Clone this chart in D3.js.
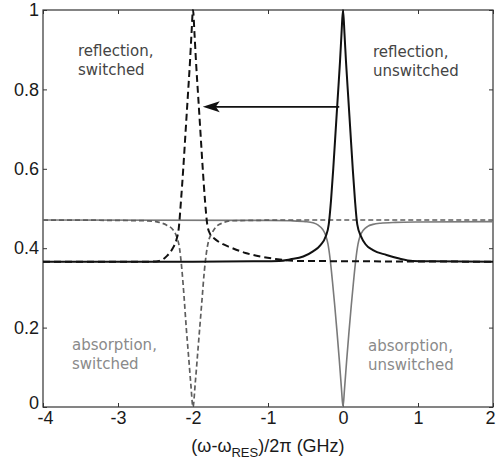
<!DOCTYPE html>
<html>
<head>
<meta charset="utf-8">
<script src="https://cdn.jsdelivr.net/npm/d3@7"></script>
<style>
  html, body { margin: 0; padding: 0; background: #fff; }
  svg { display: block; }
</style>
</head>
<body>
<svg id="chart" width="496" height="463"></svg>
<script>
// Detuning axis (GHz) and tick labels
const xTicks = [-4, -3, -2, -1, 0, 1, 2];
const xTickLabels = ["-4", "-3", "-2", "-1", "0", "1", "2"];
const yTicks = [0, 0.2, 0.4, 0.6, 0.8, 1];
const yTickLabels = ["0", "0.2", "0.4", "0.6", "0.8", "1"];

// Reflection, unswitched (resonance at 0)
const reflUnswX = [-4, -2, -1.2, -0.85, -0.7, -0.53, -0.4, -0.3, -0.23, -0.19, -0.16, -0.13, -0.1, -0.07, -0.04, -0.02, 0,
                   0.02, 0.04, 0.07, 0.1, 0.13, 0.16, 0.19, 0.24, 0.3, 0.4, 0.58, 0.75, 0.93, 1.2, 2];
const reflUnswY = [0.366, 0.366, 0.367, 0.368, 0.372, 0.379, 0.392, 0.408, 0.43, 0.46, 0.52, 0.60, 0.69, 0.78, 0.87, 0.94, 1.0,
                   0.94, 0.87, 0.78, 0.69, 0.60, 0.52, 0.46, 0.43, 0.41, 0.395, 0.383, 0.374, 0.368, 0.367, 0.366];

// Absorption, unswitched (resonance at 0)
const absUnswX = [-4, -1, -0.7, -0.5, -0.4, -0.33, -0.27, -0.23, -0.2, -0.17, -0.14, -0.11, -0.08, -0.05, -0.02, 0,
                  0.02, 0.05, 0.08, 0.11, 0.14, 0.17, 0.2, 0.23, 0.27, 0.33, 0.4, 0.5, 0.7, 1, 2];
const absUnswY = [0.471, 0.47, 0.469, 0.467, 0.464, 0.458, 0.447, 0.432, 0.41, 0.37, 0.315, 0.255, 0.19, 0.12, 0.045, 0,
                  0.045, 0.12, 0.19, 0.255, 0.315, 0.37, 0.41, 0.432, 0.445, 0.455, 0.46, 0.463, 0.465, 0.466, 0.467];

// Reflection, switched (resonance pulled to -2 GHz)
const reflSwX = [-4, -2.6, -2.45, -2.35, -2.27, -2.22, -2.19, -2.16, -2.13, -2.1, -2.07, -2.04, -2.02, -2,
                 -1.98, -1.96, -1.93, -1.9, -1.87, -1.84, -1.81, -1.77, -1.72, -1.6, -1.5, -1.3, -1.1, -0.9, -0.6, 2];
const reflSwY = [0.366, 0.366, 0.368, 0.38, 0.40, 0.422, 0.45, 0.52, 0.60, 0.69, 0.78, 0.87, 0.94, 1.0,
                 0.94, 0.87, 0.78, 0.69, 0.60, 0.52, 0.46, 0.435, 0.425, 0.41, 0.402, 0.388, 0.379, 0.373, 0.368, 0.366];

// Absorption, switched (resonance pulled to -2 GHz)
const absSwX = [-4, -3, -2.6, -2.45, -2.35, -2.27, -2.22, -2.18, -2.15, -2.12, -2.09, -2.06, -2.03, -2,
                -1.97, -1.94, -1.91, -1.88, -1.85, -1.82, -1.79, -1.75, -1.7, -1.6, -1.5, -1.2, -0.8, 2];
const absSwY = [0.471, 0.47, 0.469, 0.465, 0.458, 0.447, 0.43, 0.40, 0.35, 0.28, 0.20, 0.13, 0.06, 0,
                0.06, 0.13, 0.20, 0.27, 0.34, 0.39, 0.42, 0.437, 0.452, 0.464, 0.469, 0.47, 0.471, 0.471];

// Shift arrow between the two reflection peaks
const arrowFromX = -0.05, arrowToX = -1.87, arrowY = 0.756;

const W = 496, H = 463;
const margin = { left: 43, right: 3, top: 10, bottom: 56 };
const svg = d3.select("#chart");

const x = d3.scaleLinear().domain([-4, 2]).range([margin.left, W - margin.right]);
const y = d3.scaleLinear().domain([0, 1]).range([H - margin.bottom, margin.top]);

const axisFont = "'Liberation Sans', Arial, sans-serif";
const noteFont = "'DejaVu Sans', sans-serif";

// Frame
svg.append("rect")
  .attr("x", x(-4)).attr("y", y(1))
  .attr("width", x(2) - x(-4)).attr("height", y(0) - y(1))
  .attr("fill", "none").attr("stroke", "#333").attr("stroke-width", 1.2);

function styleAxis(g, showLabels) {
  g.select(".domain").remove();
  g.selectAll(".tick line").attr("stroke", "#333").attr("stroke-width", 1);
  g.selectAll(".tick text")
    .attr("fill", "#1a1a1a")
    .style("font-family", axisFont)
    .style("font-size", "18px")
    .style("display", showLabels ? null : "none");
}

svg.append("g")
  .attr("transform", `translate(0,${y(0)})`)
  .call(d3.axisBottom(x).tickValues(xTicks).tickSizeInner(-4).tickSizeOuter(0).tickPadding(4)
        .tickFormat((d, i) => xTickLabels[i]))
  .call(g => styleAxis(g, true))
  .call(g => g.selectAll(".tick text")
    .attr("dx", d => d === 2 ? -3 : (d === -4 ? 2 : 0)));

svg.append("g")
  .attr("transform", `translate(0,${y(1)})`)
  .call(d3.axisTop(x).tickValues(xTicks).tickSizeInner(-4).tickSizeOuter(0))
  .call(g => styleAxis(g, false));

svg.append("g")
  .attr("transform", `translate(${x(-4)},0)`)
  .call(d3.axisLeft(y).tickValues(yTicks).tickSizeInner(-4).tickSizeOuter(0).tickPadding(4)
        .tickFormat((d, i) => yTickLabels[i]))
  .call(g => styleAxis(g, true))
  .call(g => g.selectAll(".tick text")
    .attr("transform", d => d === 0 ? "translate(0,-4)" : null));

svg.append("g")
  .attr("transform", `translate(${x(2)},0)`)
  .call(d3.axisRight(y).tickValues(yTicks).tickSizeInner(-4).tickSizeOuter(0))
  .call(g => styleAxis(g, false));

// Curves
const line = d3.line().x(d => x(d[0])).y(d => y(d[1])).curve(d3.curveMonotoneX);
const zip = (xs, ys) => xs.map((v, i) => [v, ys[i]]);

const series = [
  { xs: absUnswX, ys: absUnswY, color: "#7a7a7a", width: 1.6, dash: null },
  { xs: absSwX, ys: absSwY, color: "#5e5e5e", width: 1.7, dash: "5,3" },
  { xs: reflUnswX, ys: reflUnswY, color: "#111", width: 2, dash: null },
  { xs: reflSwX, ys: reflSwY, color: "#111", width: 2, dash: "7,4" }
];

const plot = svg.append("g");
series.forEach(s => {
  plot.append("path")
    .datum(zip(s.xs, s.ys))
    .attr("d", line)
    .attr("fill", "none")
    .attr("stroke", s.color)
    .attr("stroke-width", s.width)
    .attr("stroke-dasharray", s.dash)
    .attr("stroke-linejoin", "round");
});

// Arrow showing the switched shift
const ax1 = x(arrowFromX), ax2 = x(arrowToX), ay = y(arrowY);
svg.append("line")
  .attr("x1", ax1).attr("y1", ay).attr("x2", ax2 + 10).attr("y2", ay)
  .attr("stroke", "#111").attr("stroke-width", 1.8);
svg.append("path")
  .attr("d", `M${ax2},${ay} L${ax2 + 17},${ay - 5.5} L${ax2 + 13},${ay} L${ax2 + 17},${ay + 5.5} Z`)
  .attr("fill", "#111");

// Curve annotations
const notes = [
  { lines: ["reflection,", "switched"], x: 78, y: 56, color: "#444" },
  { lines: ["reflection,", "unswitched"], x: 373, y: 57, color: "#444" },
  { lines: ["absorption,", "switched"], x: 72, y: 350, color: "#8a8a8a" },
  { lines: ["absorption,", "unswitched"], x: 368, y: 351, color: "#8a8a8a" }
];
notes.forEach(n => {
  const t = svg.append("text")
    .attr("x", n.x).attr("y", n.y)
    .attr("fill", n.color)
    .style("font-family", noteFont)
    .style("font-size", "15px");
  n.lines.forEach((l, i) => {
    t.append("tspan").attr("x", n.x).attr("dy", i === 0 ? 0 : 19).text(l);
  });
});

// X axis title
const xt = svg.append("text")
  .attr("x", (x(-4) + x(2)) / 2).attr("y", 452)
  .attr("text-anchor", "middle")
  .attr("fill", "#1a1a1a")
  .style("font-family", axisFont)
  .style("font-size", "18px");
xt.append("tspan").text("(ω-ω");
xt.append("tspan").attr("dy", 5).style("font-size", "13px").text("RES");
xt.append("tspan").attr("dy", -5).text(")/2π (GHz)");
</script>
</body>
</html>
